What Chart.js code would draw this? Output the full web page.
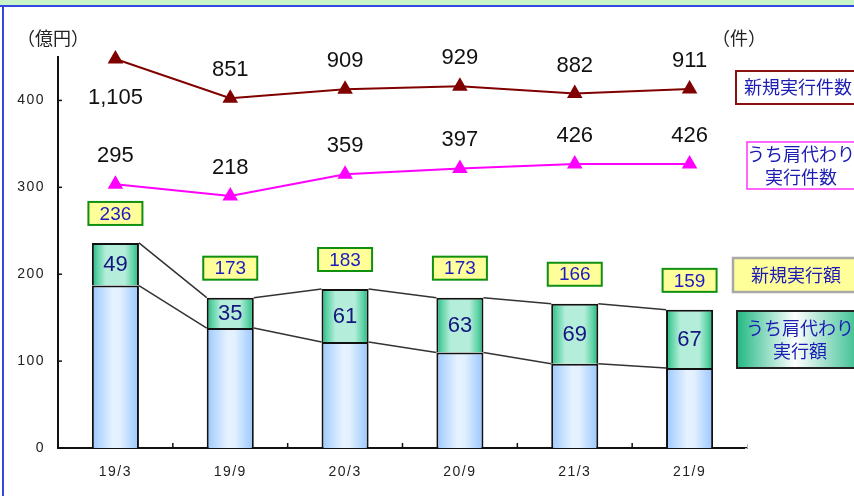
<!DOCTYPE html>
<html lang="ja">
<head>
<meta charset="utf-8">
<title>新規実行額・実行件数の推移</title>
<script src="https://cdn.jsdelivr.net/npm/chart.js@4.4.1/dist/chart.umd.min.js"></script>
<style>
  html, body { margin: 0; padding: 0; background: #fff; }
  #wrap { position: relative; width: 854px; height: 496px; }
</style>
</head>
<body>
<div id="wrap"><canvas id="chart" width="854" height="496"></canvas></div>
<script>
// periods and values
const periods = ["19/3", "19/9", "20/3", "20/9", "21/3", "21/9"];
const newAmount = [236, 173, 183, 173, 166, 159];       // 新規実行額 (億円)
const takeoverAmount = [49, 35, 61, 63, 69, 67];        // うち肩代わり実行額 (億円)
const newCount = [1105, 851, 909, 929, 882, 911];       // 新規実行件数 (件)
const takeoverCount = [295, 218, 359, 397, 426, 426];   // うち肩代わり実行件数 (件)
const amountTicks = [0, 100, 200, 300, 400];

// the plain part of each bar sits under the takeover part
const otherAmount = newAmount.map((v, i) => v - takeoverAmount[i]);

const JP = '"Noto Sans CJK JP", "Noto Sans", sans-serif';
const NUM = '"Liberation Sans", Arial, sans-serif';
const BAR_PCT = 0.82, CAT_PCT = 0.5;

function barGradient(stops, fallback) {
  return (ctx) => {
    const chart = ctx.chart;
    const xs = chart.scales.x;
    if (!chart.chartArea || !xs) return fallback;
    const cx = xs.getPixelForValue(ctx.dataIndex);
    const half = (xs.width / periods.length) * BAR_PCT * CAT_PCT / 2;
    const g = chart.ctx.createLinearGradient(cx - half, 0, cx + half, 0);
    stops.forEach(([p, c]) => g.addColorStop(p, c));
    return g;
  };
}

const blueStops = [[0, "#98c6ff"], [0.15, "#b5d7ff"], [0.45, "#e6f2ff"], [0.6, "#e2f0ff"], [0.85, "#b3d6ff"], [1, "#98c6ff"]];
const greenStops = [[0, "#1fb57f"], [0.12, "#5fd3a6"], [0.3, "#b4eedb"], [0.7, "#b4eedb"], [0.88, "#5fd3a6"], [1, "#1fb57f"]];

// frame, ticks, series lines, labels and legend boxes
const decor = {
  id: "decor",
  beforeDraw(chart) {
    const c = chart.ctx;
    c.save();
    c.fillStyle = "#fff";
    c.fillRect(0, 0, chart.width, chart.height);
    c.fillStyle = "#c9f3c9";
    c.fillRect(0, 0, chart.width, 5);
    c.fillStyle = "#3346e0";
    c.fillRect(0, 5, chart.width, 2);
    c.fillRect(2, 5, 2, chart.height - 5);
    c.restore();
    c.letterSpacing = "1.5px";
  },
  beforeDatasetsDraw(chart) {
    chart.ctx.letterSpacing = "0px";
    const c = chart.ctx, xs = chart.scales.x, ys = chart.scales.y, a = chart.chartArea;
    c.save();
    c.strokeStyle = "#111";
    c.lineWidth = 1.5;
    amountTicks.forEach(v => {
      const y = ys.getPixelForValue(v);
      c.beginPath(); c.moveTo(a.left, y); c.lineTo(a.left + 4, y); c.stroke();
    });
    for (let i = 0; i < periods.length - 1; i++) {
      const x = (xs.getPixelForValue(i) + xs.getPixelForValue(i + 1)) / 2;
      c.beginPath(); c.moveTo(x, a.bottom); c.lineTo(x, a.bottom - 5); c.stroke();
    }
    c.strokeStyle = "#bbb";
    c.lineWidth = 1;
    c.beginPath(); c.moveTo(a.right - 2, a.bottom + 0.5); c.lineTo(a.right + 0.5, a.bottom + 0.5); c.lineTo(a.right + 0.5, a.bottom - 4); c.stroke();
    c.restore();
  },
  afterDatasetsDraw(chart) {
    const c = chart.ctx, a = chart.chartArea;
    const top = chart.getDatasetMeta(1).data;

    // series lines between neighbouring bars
    c.save();
    c.strokeStyle = "#333";
    c.lineWidth = 1.5;
    for (let i = 0; i < top.length - 1; i++) {
      const p = top[i], q = top[i + 1];
      c.beginPath();
      c.moveTo(p.x + p.width / 2, p.y); c.lineTo(q.x - q.width / 2, q.y);
      c.moveTo(p.x + p.width / 2, p.base); c.lineTo(q.x - q.width / 2, q.base);
      c.stroke();
    }
    c.restore();

    c.save();
    c.textAlign = "center";
    c.textBaseline = "middle";

    // takeover amount inside the green part, total in a yellow box
    top.forEach((el, i) => {
      c.font = "22px " + NUM;
      c.fillStyle = "#15157e";
      c.fillText(String(takeoverAmount[i]), el.x, (el.y + el.base) / 2 + 1);

      const bw = 54, bh = 23, by = el.y - 18 - bh;
      c.fillStyle = "#ffff99";
      c.fillRect(el.x - bw / 2, by, bw, bh);
      c.strokeStyle = "#109010";
      c.lineWidth = 2;
      c.strokeRect(el.x - bw / 2, by, bw, bh);
      c.font = "19px " + NUM;
      c.fillStyle = "#1c1cc0";
      c.fillText(String(newAmount[i]), el.x, by + bh / 2 + 1);
    });

    // counts above the triangles
    c.font = "22px " + NUM;
    c.fillStyle = "#111";
    [[2, newCount], [3, takeoverCount]].forEach(([di, vals]) => {
      chart.getDatasetMeta(di).data.forEach((pt, i) => {
        const y = pt.y - 27 < a.top ? pt.y + 39 : pt.y - 28;
        c.fillText(vals[i].toLocaleString("en-US"), pt.x, y);
      });
    });

    // unit captions
    c.font = "18px " + JP;
    c.fillStyle = "#222";
    c.fillText("（億円）", 53, 38);
    c.fillText("（件）", 739, 38);

    // legend boxes along the right edge
    const box = (x, y, w, h, fill, stroke, lw, lines, cx) => {
      c.fillStyle = fill;
      c.fillRect(x, y, w, h);
      c.strokeStyle = stroke;
      c.lineWidth = lw;
      c.strokeRect(x, y, w, h);
      c.font = "18px " + JP;
      c.fillStyle = "#1c1cb4";
      const step = 23, y0 = y + h / 2 - (lines.length - 1) * step / 2;
      lines.forEach((t, k) => c.fillText(t, cx, y0 + k * step));
    };
    box(736, 71, 130, 33, "#fff", "#8b1010", 2, ["新規実行件数"], 798);
    box(747, 142, 120, 47, "#fff", "#ff33ff", 1.5, ["うち肩代わり", "実行件数"], 801);
    box(733, 258, 130, 34, "#ffff99", "#a8a8a8", 2.5, ["新規実行額"], 796);
    const g = c.createLinearGradient(737, 0, 866, 0);
    g.addColorStop(0, "#22b884");
    g.addColorStop(0.45, "#ffffff");
    g.addColorStop(1, "#22b884");
    box(737, 311, 130, 57, g, "#222", 2, ["うち肩代わり", "実行額"], 800);
    c.restore();
  }
};

new Chart(document.getElementById("chart"), {
  data: {
    labels: periods,
    datasets: [
      {
        type: "bar",
        label: "新規実行額",
        data: otherAmount,
        yAxisID: "y",
        backgroundColor: barGradient(blueStops, "#cfe5ff"),
        borderColor: "#111",
        borderWidth: 2,
        barPercentage: BAR_PCT,
        categoryPercentage: CAT_PCT,
        order: 3,
      },
      {
        type: "bar",
        label: "うち肩代わり実行額",
        data: takeoverAmount,
        yAxisID: "y",
        backgroundColor: barGradient(greenStops, "#7fdcb8"),
        borderColor: "#111",
        borderWidth: 2,
        barPercentage: BAR_PCT,
        categoryPercentage: CAT_PCT,
        order: 3,
      },
      {
        type: "line",
        label: "新規実行件数",
        data: newCount,
        yAxisID: "y2",
        borderColor: "#800000",
        backgroundColor: "#800000",
        borderWidth: 2,
        pointStyle: "triangle",
        pointRadius: 9,
        pointBorderWidth: 0,
        tension: 0,
        clip: false,
        order: 1,
      },
      {
        type: "line",
        label: "うち肩代わり実行件数",
        data: takeoverCount,
        yAxisID: "y2",
        borderColor: "#ff00ff",
        backgroundColor: "#ff00ff",
        borderWidth: 2,
        pointStyle: "triangle",
        pointRadius: 9,
        pointBorderWidth: 0,
        tension: 0,
        clip: false,
        order: 1,
      },
    ],
  },
  options: {
    responsive: false,
    animation: false,
    layout: { padding: { top: 57, right: 107, bottom: 0, left: 0 } },
    plugins: { legend: { display: false }, tooltip: { enabled: false } },
    scales: {
      x: {
        stacked: true,
        offset: true,
        grid: { display: false, drawTicks: false },
        border: { color: "#111", width: 2 },
        ticks: { color: "#222", font: { family: NUM, size: 14 }, padding: 16, maxRotation: 0 },
        afterFit: (s) => { s.height = 48; },
      },
      y: {
        stacked: true,
        min: 0,
        max: 450,
        grid: { display: false, drawTicks: false },
        border: { color: "#111", width: 2 },
        ticks: { stepSize: 100, includeBounds: false, color: "#222", font: { family: NUM, size: 14 }, padding: 13 },
        afterFit: (s) => { s.width = 58; },
      },
      y2: {
        display: false,
        position: "right",
        min: -1412,
        max: 1118,
      },
    },
  },
  plugins: [decor],
});
</script>
</body>
</html>
